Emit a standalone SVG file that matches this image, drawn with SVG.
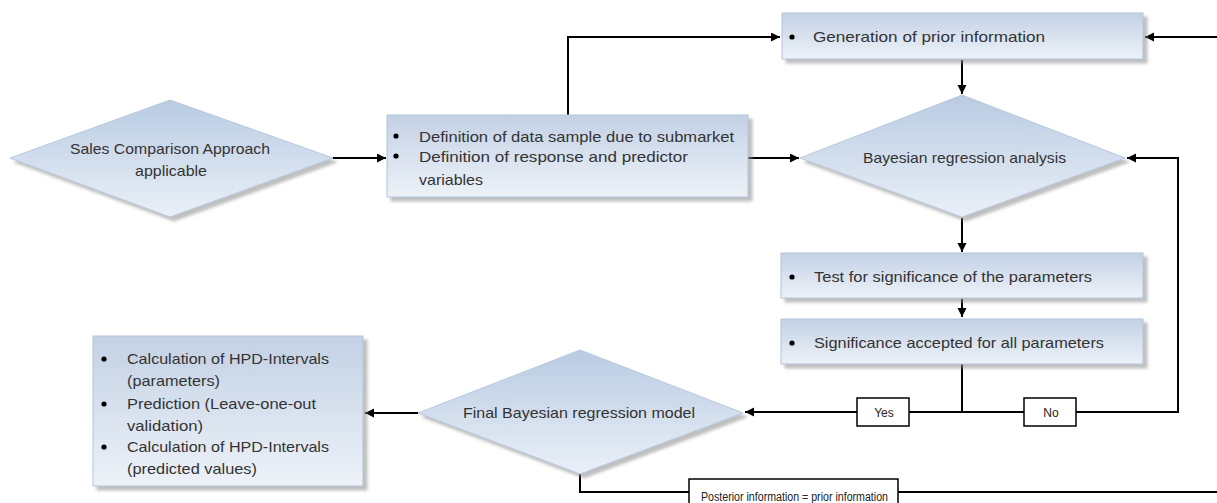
<svg xmlns="http://www.w3.org/2000/svg" width="1217" height="503" viewBox="0 0 1217 503">
<defs>
  <linearGradient id="gBox" x1="0" y1="0" x2="0" y2="1">
    <stop offset="0" stop-color="#c3d1e5"/>
    <stop offset="1" stop-color="#edf2f8"/>
  </linearGradient>
  <linearGradient id="gDia" x1="0" y1="0" x2="0" y2="1">
    <stop offset="0" stop-color="#b9cbe2"/>
    <stop offset="1" stop-color="#eaf0f8"/>
  </linearGradient>
  <filter id="sh" x="-10%" y="-10%" width="125%" height="130%">
    <feDropShadow dx="4" dy="4" stdDeviation="1.5" flood-color="#8a8a8a" flood-opacity="0.55"/>
  </filter>
  <marker id="ah" markerUnits="userSpaceOnUse" markerWidth="10" markerHeight="10" refX="9" refY="4.5" orient="auto">
    <path d="M0,0 L9,4.5 L0,9 z" fill="#000"/>
  </marker>
  <style>
    .box{fill:url(#gBox);stroke:#b4c4da;stroke-width:1;filter:url(#sh)}
    .dia{fill:url(#gDia);stroke:#b9c9de;stroke-width:1;filter:url(#sh)}
    .t{font-family:"Liberation Sans",Arial,sans-serif;font-size:15px;fill:#333}
    .tc{font-family:"Liberation Sans",Arial,sans-serif;font-size:15px;fill:#333;text-anchor:middle}
    .lbl{font-family:"Liberation Sans",Arial,sans-serif;font-size:12px;fill:#222;text-anchor:middle}
    .ln{fill:none;stroke:#000;stroke-width:2}
    .arr{fill:none;stroke:#000;stroke-width:2;marker-end:url(#ah)}
    .lb{fill:#fff;stroke:#000;stroke-width:1.5}
    .bul{fill:#000}
  </style>
</defs>

<g id="connectors">
  <path class="arr" d="M333,158 L386,158"/>
  <path class="arr" d="M568,115 L568,37 L780,37"/>
  <path class="arr" d="M748,158 L799,158"/>
  <path class="arr" d="M1217,37 L1145,37"/>
  <path class="arr" d="M962,60 L962,94"/>
  <path class="arr" d="M962,218 L962,252"/>
  <path class="arr" d="M962,299 L962,317"/>
  <path class="arr" d="M962,364 L962,412 L745,412"/>
  <path class="arr" d="M962,412 L1178,412 L1178,158 L1127,158"/>
  <path class="arr" d="M418,413 L365,413"/>
  <path class="ln" d="M580,474 L580,492 L1217,492"/>
</g>

<g id="node-sales">
  <polygon class="dia" points="10,158 170,100 333,158 170,217"/>
  <text class="t" x="70" y="154" textLength="200" lengthAdjust="spacingAndGlyphs">Sales Comparison Approach</text>
  <text class="t" x="135" y="176" textLength="72" lengthAdjust="spacingAndGlyphs">applicable</text>
</g>

<g id="node-definition">
  <rect class="box" x="387" y="115" width="361" height="82"/>
  <circle class="bul" cx="396" cy="136" r="2.6"/>
  <circle class="bul" cx="396" cy="156" r="2.6"/>
  <text class="t" x="419" y="142" textLength="315" lengthAdjust="spacingAndGlyphs">Definition of data sample due to submarket</text>
  <text class="t" x="419" y="162" textLength="269" lengthAdjust="spacingAndGlyphs">Definition of  response and predictor</text>
  <text class="t" x="419" y="185" textLength="64" lengthAdjust="spacingAndGlyphs">variables</text>
</g>

<g id="node-generation">
  <rect class="box" x="782" y="13" width="361" height="46"/>
  <circle class="bul" cx="792" cy="37" r="2.6"/>
  <text class="t" x="813" y="42" textLength="232" lengthAdjust="spacingAndGlyphs">Generation of prior information</text>
</g>

<g id="node-bayes">
  <polygon class="dia" points="800,158 962,95 1125,158 962,217"/>
  <text class="t" x="863" y="163" textLength="203" lengthAdjust="spacingAndGlyphs">Bayesian regression analysis</text>
</g>

<g id="node-test">
  <rect class="box" x="781" y="253" width="362" height="45"/>
  <circle class="bul" cx="792" cy="277" r="2.6"/>
  <text class="t" x="814" y="282" textLength="278" lengthAdjust="spacingAndGlyphs">Test for significance of the parameters</text>
</g>

<g id="node-significance">
  <rect class="box" x="781" y="319" width="362" height="45"/>
  <circle class="bul" cx="792" cy="343" r="2.6"/>
  <text class="t" x="814" y="348" textLength="290" lengthAdjust="spacingAndGlyphs">Significance accepted for all parameters</text>
</g>

<g id="node-final">
  <polygon class="dia" points="418,413 580,350 743,413 580,474"/>
  <text class="t" x="463" y="418" textLength="232" lengthAdjust="spacingAndGlyphs">Final Bayesian regression model</text>
</g>

<g id="node-results">
  <rect class="box" x="93" y="336" width="270" height="150"/>
  <circle class="bul" cx="104" cy="359" r="2.6"/>
  <circle class="bul" cx="104" cy="404" r="2.6"/>
  <circle class="bul" cx="104" cy="447" r="2.6"/>
  <text class="t" x="127" y="364" textLength="202" lengthAdjust="spacingAndGlyphs">Calculation of HPD-Intervals</text>
  <text class="t" x="127" y="386" textLength="93" lengthAdjust="spacingAndGlyphs">(parameters)</text>
  <text class="t" x="127" y="409" textLength="189" lengthAdjust="spacingAndGlyphs">Prediction (Leave-one-out</text>
  <text class="t" x="127" y="431" textLength="76" lengthAdjust="spacingAndGlyphs">validation)</text>
  <text class="t" x="127" y="452" textLength="202" lengthAdjust="spacingAndGlyphs">Calculation of HPD-Intervals</text>
  <text class="t" x="127" y="474" textLength="130" lengthAdjust="spacingAndGlyphs">(predicted values)</text>
</g>

<g id="label-yes">
  <rect class="lb" x="857" y="398" width="52" height="28"/>
  <text class="lbl" x="884" y="417">Yes</text>
</g>
<g id="label-no">
  <rect class="lb" x="1024" y="398" width="52" height="28"/>
  <text class="lbl" x="1051" y="417">No</text>
</g>
<g id="label-posterior">
  <rect class="lb" x="689" y="479" width="209" height="32"/>
  <text class="lbl" x="701" y="501" text-anchor="start" style="text-anchor:start" textLength="187" lengthAdjust="spacingAndGlyphs">Posterior information = prior information</text>
</g>
</svg>
